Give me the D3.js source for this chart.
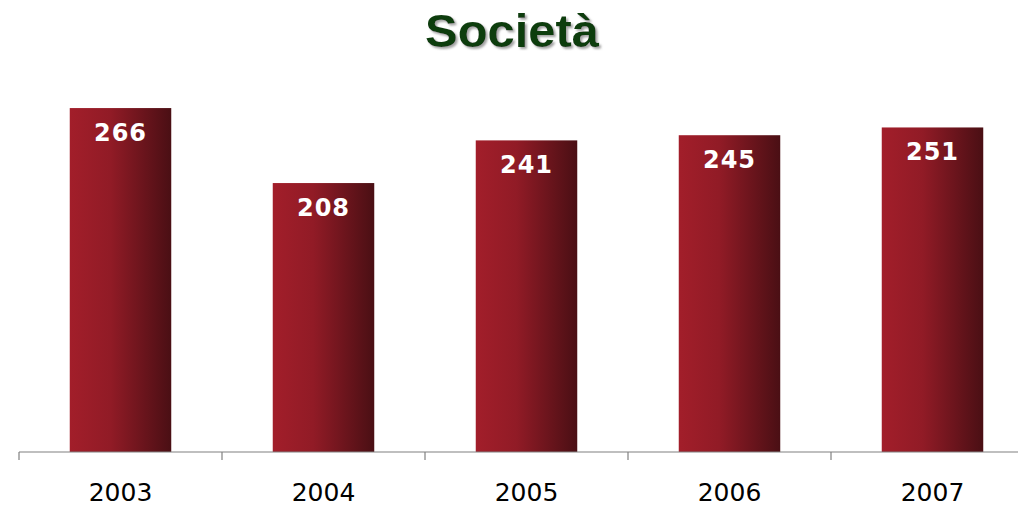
<!DOCTYPE html>
<html><head><meta charset="utf-8">
<script src="https://cdn.jsdelivr.net/npm/d3@7"></script>
<style>body{margin:0;background:#fff}svg{display:block}</style>
</head><body>
<svg id="c" width="1018" height="506"></svg>
<script>
const categories = ["2003","2004","2005","2006","2007"];
const values = [266, 208, 241, 245, 251];
const title = "Società";

const svg = d3.select("#c");
const W = 1018, H = 506;
const x = d3.scaleBand().domain(categories).range([19, 19 + 203*5]).paddingInner(0.5).paddingOuter(0.25);
const y = d3.scaleLinear().domain([0, 300]).range([452, 452 - 300*1.293]);

const defs = svg.append("defs");
const g = defs.append("linearGradient").attr("id","bg").attr("x1","0").attr("x2","1").attr("y1","0").attr("y2","0");
g.append("stop").attr("offset","0").attr("stop-color","#a21e2a");
g.append("stop").attr("offset","0.4").attr("stop-color","#911b26");
g.append("stop").attr("offset","1").attr("stop-color","#4a0f14");
const f = defs.append("filter").attr("id","sh").attr("x","-10%").attr("y","-20%").attr("width","130%").attr("height","150%");
f.append("feDropShadow").attr("dx",2).attr("dy",2).attr("stdDeviation",0.8).attr("flood-color","#9a9a9a").attr("flood-opacity",0.9);

svg.append("text").attr("x", 425).attr("y", 47).attr("text-anchor","start")
  .attr("font-family","Liberation Sans, Arial, sans-serif").attr("font-weight","bold").attr("font-size",47)
  .attr("textLength",174).attr("lengthAdjust","spacingAndGlyphs")
  .attr("fill","#0d3d0d").attr("filter","url(#sh)").text(title);

svg.selectAll("rect.bar").data(values).join("rect").attr("class","bar")
  .attr("x",(d,i)=>x(categories[i])).attr("width",x.bandwidth())
  .attr("y",d=>y(d)).attr("height",d=>y(0)-y(d)).attr("fill","url(#bg)");

svg.selectAll("text.lab").data(values).join("text").attr("class","lab")
  .attr("x",(d,i)=>x(categories[i])+x.bandwidth()/2).attr("y",d=>y(d)+33)
  .attr("text-anchor","middle").attr("fill","#fff").attr("font-weight","bold")
  .attr("font-family","DejaVu Sans, Verdana, sans-serif").attr("font-size",24).attr("letter-spacing",1)
  .text(d=>d);

const axis = d3.axisBottom(x).tickSize(0).tickPadding(0);
const ax = svg.append("g").attr("transform","translate(0,452)").call(axis);
ax.select(".domain").attr("stroke","#808080").attr("stroke-width",1.2).attr("d",`M19,0H${W}`);
ax.selectAll(".tick text").attr("font-family","DejaVu Sans, Verdana, sans-serif").attr("font-size",25)
  .attr("fill","#000").attr("dy",0).attr("y",49);
const edges = d3.range(0, categories.length+1).map(i=>19 + i*203);
ax.selectAll("line.edge").data(edges).join("line").attr("class","edge")
  .attr("x1",d=>d).attr("x2",d=>d).attr("y1",0).attr("y2",8).attr("stroke","#808080").attr("stroke-width",1.2);
</script>
</body></html>
